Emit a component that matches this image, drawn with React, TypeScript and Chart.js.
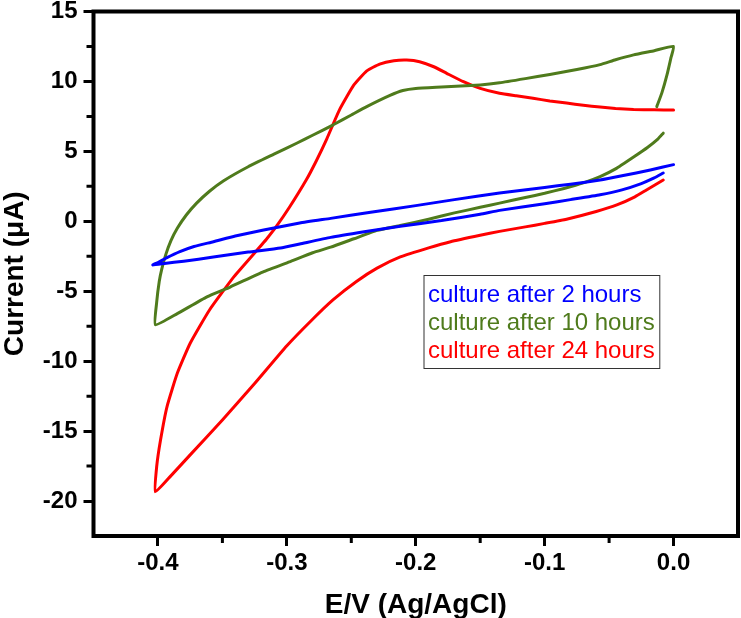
import React, { useEffect, useRef } from 'react';
import { Chart, registerables } from 'chart.js';

Chart.register(...registerables);

const FONT = "'Liberation Sans', Arial, Helvetica, sans-serif";

const seriesLabels = ['culture after 2 hours', 'culture after 10 hours', 'culture after 24 hours'];
const seriesColors = ['#0000ff', '#4f7b1c', '#ff0000'];

// culture after 2 hours (E in V, I in µA)
const blueE = [
  0.0, -0.018, -0.04, -0.057, -0.08, -0.1, -0.135, -0.17, -0.2, -0.235, -0.266, -0.29, -0.318, -0.34,
  -0.357, -0.372, -0.383, -0.393, -0.4, -0.404,
  -0.395, -0.38, -0.357, -0.33, -0.305, -0.29, -0.266, -0.24, -0.212, -0.18, -0.15, -0.135, -0.1,
  -0.08, -0.057, -0.04, -0.025, -0.015, -0.008,
];
const blueI = [
  4.05, 3.67, 3.25, 2.95, 2.65, 2.42, 2.02, 1.55, 1.12, 0.65, 0.21, -0.12, -0.62, -1.05,
  -1.46, -1.8, -2.17, -2.6, -2.95, -3.12,
  -3.02, -2.85, -2.56, -2.2, -1.91, -1.62, -1.15, -0.75, -0.35, 0.05, 0.5, 0.78, 1.25,
  1.55, 1.9, 2.25, 2.7, 3.1, 3.45,
];

// culture after 10 hours
const greenE = [
  -0.013, -0.009, -0.005, -0.002, 0.0, -0.015, -0.031, -0.045, -0.057, -0.075, -0.096, -0.115, -0.135,
  -0.15, -0.18, -0.2, -0.21, -0.22, -0.238, -0.25, -0.264, -0.28, -0.292, -0.31, -0.33, -0.349, -0.36,
  -0.37, -0.378, -0.385, -0.39, -0.394, -0.397, -0.399, -0.401, -0.402,
  -0.385, -0.362, -0.344, -0.318, -0.298, -0.28, -0.266, -0.248, -0.23, -0.212, -0.19, -0.17, -0.15,
  -0.135, -0.115, -0.1, -0.085, -0.07, -0.057, -0.045, -0.031, -0.02, -0.012, -0.008,
];
const greenI = [
  8.2, 9.2, 10.5, 11.7, 12.5, 12.2, 11.9, 11.55, 11.2, 10.85, 10.5, 10.2, 9.9,
  9.75, 9.6, 9.5, 9.35, 9.0, 8.2, 7.6, 6.9, 6.15, 5.6, 4.8, 3.9, 2.9, 2.15,
  1.3, 0.45, -0.5, -1.4, -2.4, -3.4, -4.3, -5.8, -7.4,
  -6.6, -5.4, -4.7, -3.6, -2.9, -2.25, -1.85, -1.25, -0.65, -0.3, 0.15, 0.6, 1.0,
  1.3, 1.7, 2.0, 2.35, 2.75, 3.2, 3.75, 4.6, 5.3, 5.9, 6.3,
];

// culture after 24 hours
const redE = [
  0.0, -0.015, -0.031, -0.045, -0.057, -0.07, -0.083, -0.096, -0.109, -0.122, -0.135, -0.15, -0.163,
  -0.176, -0.186, -0.197, -0.207, -0.217, -0.228, -0.238, -0.248, -0.259, -0.269, -0.277, -0.285,
  -0.298, -0.308, -0.316, -0.323, -0.341, -0.36, -0.375, -0.385, -0.393, -0.398, -0.401, -0.402,
  -0.39, -0.375, -0.35, -0.325, -0.3, -0.28, -0.264, -0.246, -0.23, -0.212, -0.19, -0.173, -0.15,
  -0.135, -0.115, -0.1, -0.083, -0.06, -0.044, -0.03, -0.021, -0.008,
];
const redI = [
  7.95, 7.97, 8.0, 8.07, 8.17, 8.3, 8.45, 8.6, 8.8, 8.97, 9.15, 9.5, 9.98,
  10.58, 11.05, 11.41, 11.53, 11.48, 11.24, 10.75, 9.75, 8.0, 5.9, 4.35, 2.95,
  1.0, -0.35, -1.3, -2.05, -3.96, -6.34, -8.72, -10.87, -13.26, -15.64, -17.55, -19.34,
  -18.2, -16.7, -14.2, -11.6, -8.9, -7.0, -5.6, -4.3, -3.35, -2.55, -1.9, -1.46, -1.0,
  -0.72, -0.4, -0.15, 0.15, 0.7, 1.17, 1.75, 2.24, 2.95,
];

const xTicks = [-0.4, -0.3, -0.2, -0.1, 0.0];
const xMinorTicks = [-0.35, -0.25, -0.15, -0.05];
const yTicks = [-20, -15, -10, -5, 0, 5, 10, 15];
const yMinorTicks = [-17.5, -12.5, -7.5, -2.5, 2.5, 7.5, 12.5];

const toPoints = (xs: number[], ys: number[]) => xs.map((x, i) => ({ x, y: ys[i] }));

const framePlugin = {
  id: 'frameAndLegend',
  afterDatasetsDraw(chart: any) {
    const { ctx, chartArea: a, scales } = chart;
    ctx.save();
    // frame
    ctx.strokeStyle = '#000';
    ctx.lineWidth = 4;
    ctx.strokeRect(a.left, a.top, a.right - a.left, a.bottom - a.top);
    // minor ticks
    ctx.lineWidth = 3;
    ctx.beginPath();
    for (const v of xMinorTicks) {
      const px = scales.x.getPixelForValue(v);
      ctx.moveTo(px, a.bottom);
      ctx.lineTo(px, a.bottom + 7);
    }
    for (const v of yMinorTicks) {
      const py = scales.y.getPixelForValue(v);
      ctx.moveTo(a.left, py);
      ctx.lineTo(a.left - 7, py);
    }
    ctx.stroke();

    // legend box
    ctx.font = `24px ${FONT}`;
    const ds = chart.data.datasets;
    let maxW = 0;
    for (const d of ds) maxW = Math.max(maxW, ctx.measureText(d.label).width);
    const bx = a.left + 330;
    const by = a.top + 263.5;
    const bw = maxW + 9;
    const bh = 93;
    ctx.fillStyle = '#fff';
    ctx.fillRect(bx, by, bw, bh);
    ctx.lineWidth = 1;
    ctx.strokeStyle = '#333';
    ctx.strokeRect(bx + 0.5, by + 0.5, bw, bh);
    ctx.textAlign = 'left';
    ctx.textBaseline = 'alphabetic';
    ds.forEach((d: any, i: number) => {
      ctx.fillStyle = d.borderColor;
      ctx.fillText(d.label, bx + 4.5, by + 26.7 + i * 28.3);
    });
    ctx.restore();
  },
};

export default function App() {
  const ref = useRef<HTMLCanvasElement | null>(null);

  useEffect(() => {
    if (!ref.current) return;
    const data = [toPoints(blueE, blueI), toPoints(greenE, greenI), toPoints(redE, redI)];
    const chart = new Chart(ref.current, {
      type: 'scatter',
      data: {
        datasets: data.map((pts, i) => ({
          label: seriesLabels[i],
          data: pts,
          showLine: true,
          borderColor: seriesColors[i],
          backgroundColor: seriesColors[i],
          borderWidth: 3,
          pointRadius: 0,
          tension: 0.15,
          fill: false,
          borderJoinStyle: 'round' as const,
          borderCapStyle: 'round' as const,
        })),
      },
      options: {
        responsive: false,
        animation: false,
        devicePixelRatio: 1,
        events: [],
        layout: { padding: { top: 11.5, right: 3, left: 0, bottom: 0 } },
        plugins: { legend: { display: false }, tooltip: { enabled: false } },
        scales: {
          x: {
            type: 'linear',
            position: 'bottom',
            min: -0.45,
            max: 0.05,
            afterBuildTicks: (scale: any) => {
              scale.ticks = xTicks.map((v) => ({ value: v }));
            },
            afterFit: (scale: any) => {
              scale.height = 82;
              scale.paddingLeft = 0;
              scale.paddingRight = 0;
            },
            ticks: {
              color: '#000',
              padding: 3,
              maxRotation: 0,
              autoSkip: false,
              font: { family: FONT, size: 24, weight: 'bold' },
              callback: (v: any) => {
                const s = Number(v).toFixed(1);
                return s === '-0.0' ? '0.0' : s;
              },
            },
            grid: {
              display: true,
              drawOnChartArea: false,
              drawTicks: true,
              tickLength: 10,
              tickWidth: 3,
              tickColor: '#000',
              color: '#000',
            },
            border: { display: false },
            title: {
              display: true,
              text: 'E/V (Ag/AgCl)',
              color: '#000',
              font: { family: FONT, size: 28, weight: 'bold', lineHeight: 1 },
              padding: { top: 0, bottom: -1 },
            },
          },
          y: {
            type: 'linear',
            position: 'left',
            min: -22.5,
            max: 15,
            afterBuildTicks: (scale: any) => {
              scale.ticks = yTicks.map((v) => ({ value: v }));
            },
            afterFit: (scale: any) => {
              scale.width = 93.5;
              scale.paddingTop = 0;
              scale.paddingBottom = 0;
            },
            ticks: {
              color: '#000',
              padding: 6,
              autoSkip: false,
              font: { family: FONT, size: 24, weight: 'bold' },
              callback: (v: any) => String(v),
            },
            grid: {
              display: true,
              drawOnChartArea: false,
              drawTicks: true,
              tickLength: 10,
              tickWidth: 3,
              tickColor: '#000',
              color: '#000',
            },
            border: { display: false },
            title: {
              display: true,
              text: 'Current (μA)',
              color: '#000',
              font: { family: FONT, size: 28, weight: 'bold', lineHeight: 1 },
              padding: { top: 1.5, bottom: 0 },
            },
          },
        },
      },
      plugins: [framePlugin],
    });
    return () => chart.destroy();
  }, []);

  return (
    <div style={{ position: 'absolute', left: 0, top: 0, width: 741, height: 618, background: '#fff' }}>
      <canvas ref={ref} width={741} height={618} style={{ width: 741, height: 618, display: 'block' }} />
    </div>
  );
}
